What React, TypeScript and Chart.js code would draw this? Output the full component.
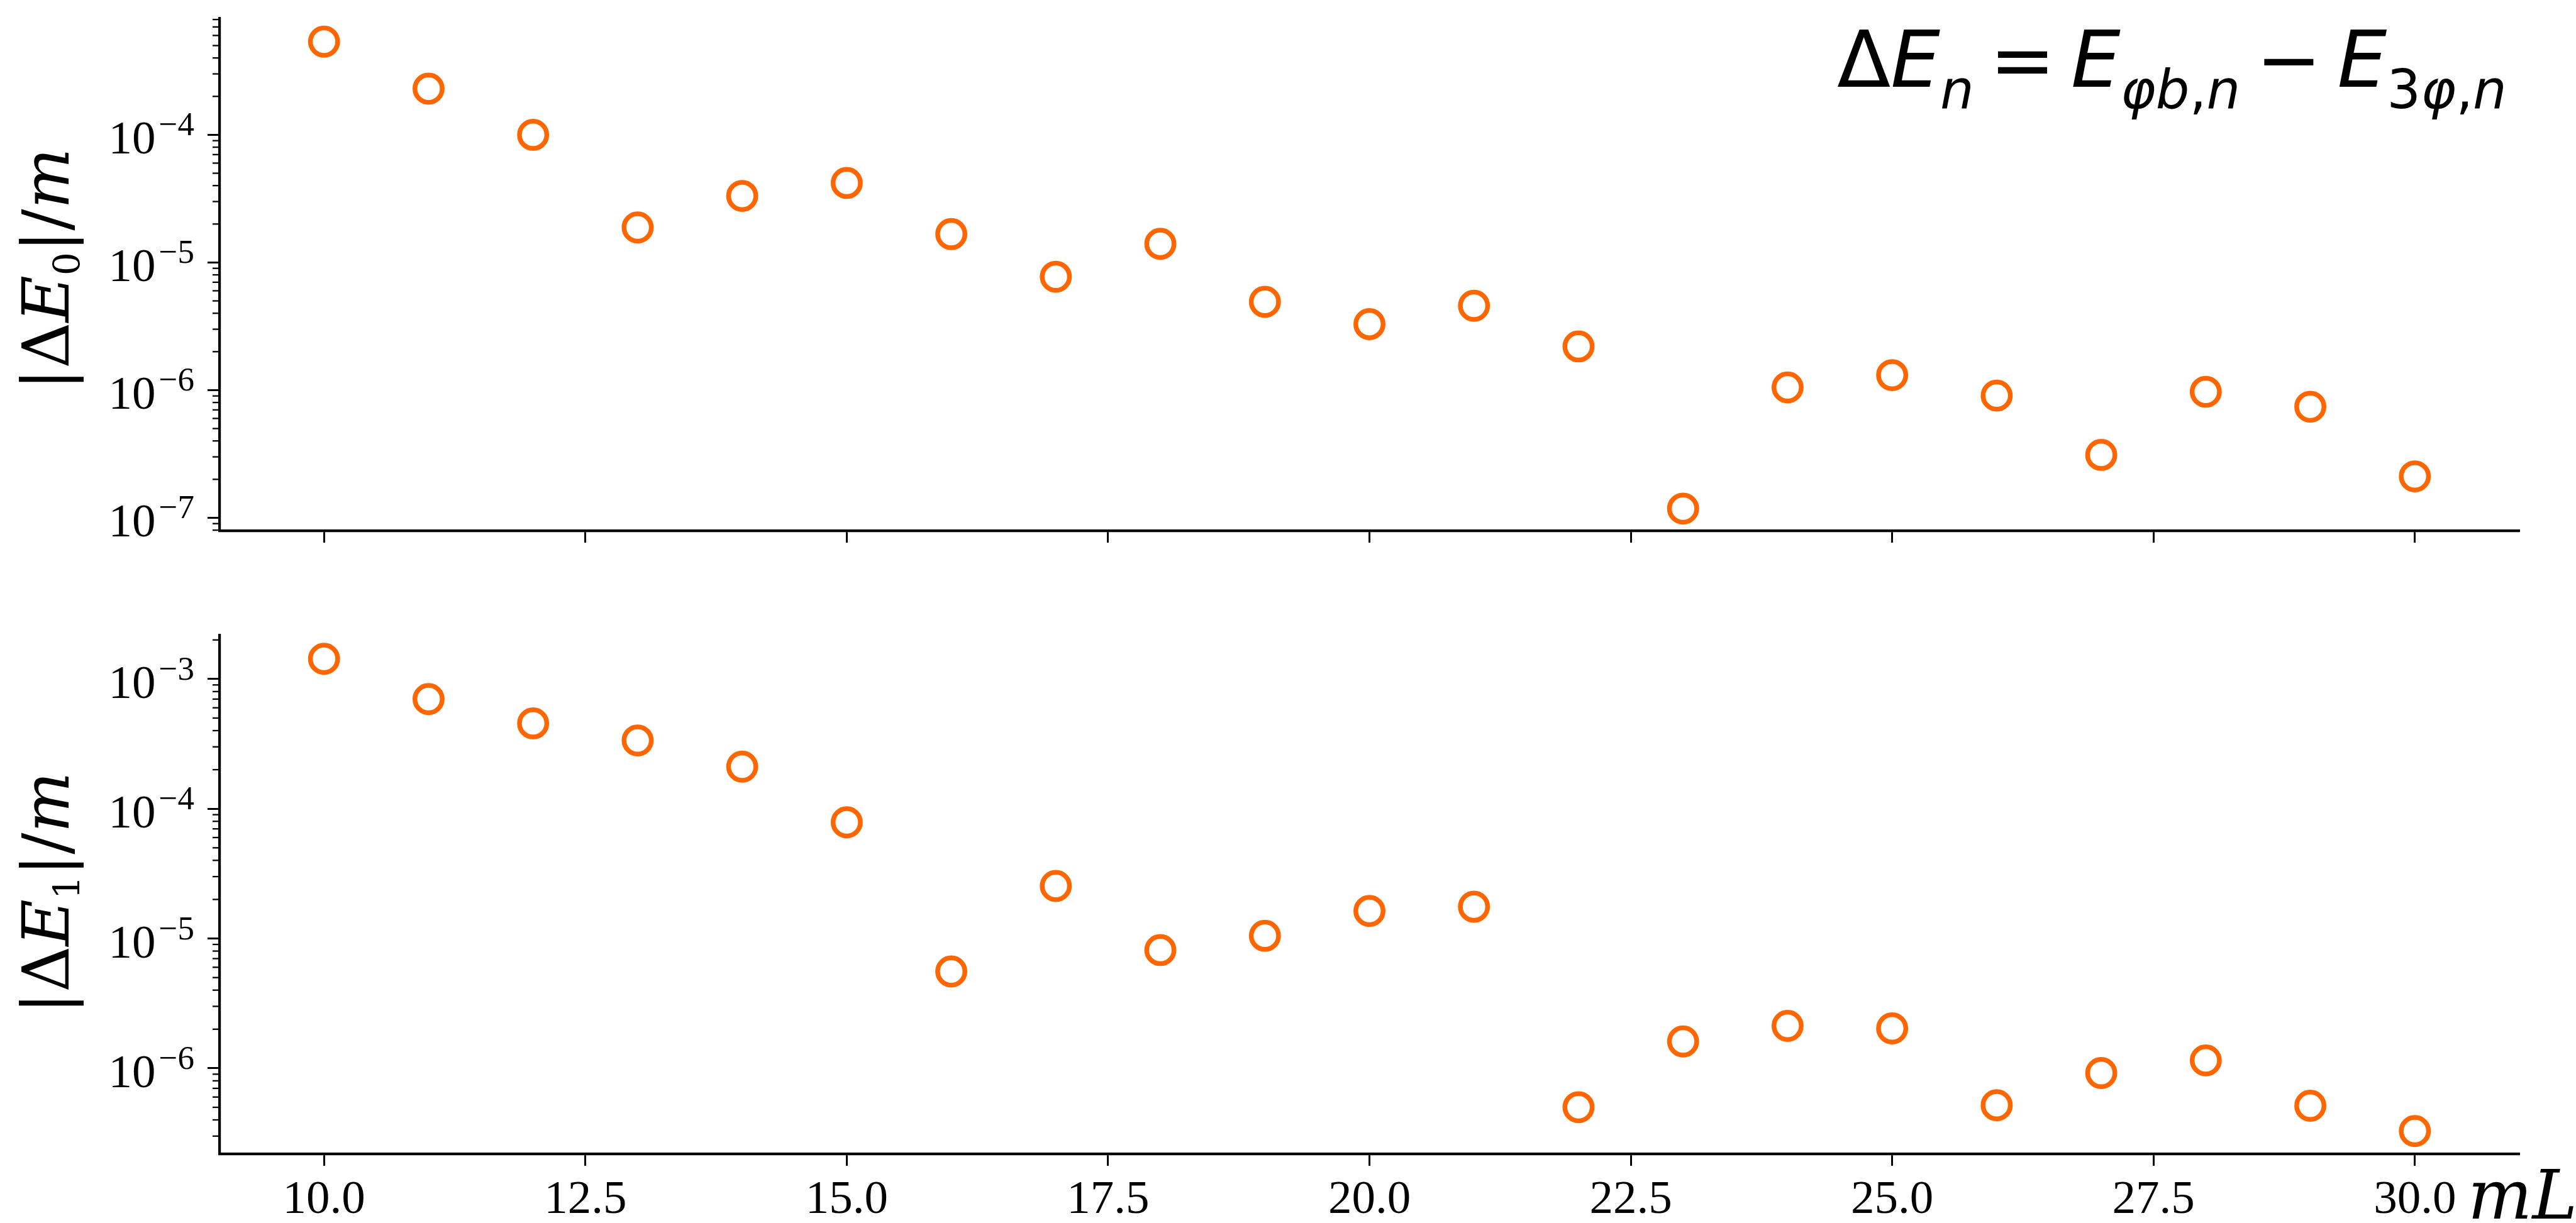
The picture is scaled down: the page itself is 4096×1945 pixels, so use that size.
import React, { useEffect, useRef } from 'react';
import { Chart, registerables } from 'chart.js';

Chart.register(...registerables);

// ---------------- data ----------------
const mL = [10, 11, 12, 13, 14, 15, 16, 17, 18, 19, 20, 21, 22, 23, 24, 25, 26, 27, 28, 29, 30];
const deltaE0 = [5.37e-4, 2.3e-4, 1.0e-4, 1.88e-5, 3.32e-5, 4.2e-5, 1.67e-5, 7.73e-6, 1.4e-5, 4.92e-6, 3.29e-6, 4.58e-6, 2.2e-6, 1.18e-7, 1.05e-6, 1.31e-6, 9.06e-7, 3.11e-7, 9.7e-7, 7.41e-7, 2.11e-7];
const deltaE1 = [1.43e-3, 7.0e-4, 4.55e-4, 3.36e-4, 2.11e-4, 7.86e-5, 5.57e-6, 2.54e-5, 8.15e-6, 1.05e-5, 1.63e-5, 1.76e-5, 5.01e-7, 1.61e-6, 2.12e-6, 2.03e-6, 5.19e-7, 9.18e-7, 1.15e-6, 5.14e-7, 3.28e-7];
const xTickValues = [10, 12.5, 15, 17.5, 20, 22.5, 25, 27.5, 30];
const yExpTop = [-7, -6, -5, -4];
const yExpBottom = [-6, -5, -4, -3];
const xRange = [9, 31];
const yRangeTop = [7.92e-8, 8.17e-4];
const yRangeBottom = [2.19e-7, 2.18e-3];
const yTitleSubTop = '0';
const yTitleSubBottom = '1';
const xTitleText = 'mL';
// formula pieces: [text, style]  n=normal, i=italic, is=italic subscript, s=upright subscript, op=operator
const formulaParts: [string, string][] = [
  ['Δ', 'n'], ['E', 'i'], ['n', 'is'], ['=', 'op'], ['E', 'i'], ['φb', 'is'], [',', 's'], ['n', 'is'],
  ['−', 'op'], ['E', 'i'], ['3', 's'], ['φ', 'is'], [',', 's'], ['n', 'is'],
];

// ---------------- layout ----------------
const W = 4096;
const H = 1945;
const AREA_LEFT = 349;
const AREA_RIGHT = 4006;
const ORANGE = '#ff6600';
const SERIF = '"Liberation Serif", "DejaVu Serif", serif';
const TITLE_SERIF = '"DejaVu Serif", "Liberation Serif", serif';
const SANS = '"DejaVu Sans", sans-serif';

type Seg = { t: string; italic?: boolean; sub?: boolean; gap?: number };

function drawSegs(ctx: CanvasRenderingContext2D, segs: Seg[], x: number, y: number, S: number, family: string, subRatio: number, subDrop: number, draw: boolean) {
  let cx = x;
  for (const sg of segs) {
    const size = sg.sub ? S * subRatio : S;
    ctx.font = `${sg.italic ? 'italic ' : ''}${size}px ${family}`;
    const g = (sg.gap || 0) * S;
    cx += g;
    if (draw) ctx.fillText(sg.t, cx, y + (sg.sub ? S * subDrop : 0));
    cx += ctx.measureText(sg.t).width;
    cx += g;
  }
  return cx - x;
}

const decorPlugin = {
  id: 'decor',
  afterDraw(chart: any, _args: any, opts: any) {
    const ctx: CanvasRenderingContext2D = chart.ctx;
    const ys = chart.scales.y;
    const area = chart.chartArea;
    ctx.save();
    ctx.fillStyle = '#000';
    ctx.strokeStyle = '#000';
    // minor ticks
    ctx.lineWidth = 2.3;
    const lo = Math.floor(Math.log10(ys.min));
    const hi = Math.ceil(Math.log10(ys.max));
    for (let e = lo; e <= hi; e++) {
      for (let m = 2; m <= 9; m++) {
        const v = m * Math.pow(10, e);
        if (v < ys.min || v > ys.max) continue;
        const py = ys.getPixelForValue(v);
        ctx.beginPath();
        ctx.moveTo(area.left - 11, py);
        ctx.lineTo(area.left, py);
        ctx.stroke();
      }
    }
    // y tick labels 10^{-n}
    ctx.textAlign = 'left';
    ctx.textBaseline = 'alphabetic';
    for (const e of opts.exps as number[]) {
      const py = ys.getPixelForValue(Math.pow(10, e));
      const sup = (e < 0 ? '−' : '') + Math.abs(e);
      ctx.font = `53px ${SERIF}`;
      const wSup = ctx.measureText(sup).width;
      ctx.font = `75px ${SERIF}`;
      const wBase = ctx.measureText('10').width;
      const right = area.left - 40;
      ctx.fillText('10', right - wSup - 5 - wBase, py + 30);
      ctx.font = `53px ${SERIF}`;
      ctx.fillText(sup, right - wSup, py + 1);
    }
    // y axis title
    const tSegs: Seg[] = [
      { t: '|' }, { t: 'Δ' }, { t: 'E', italic: true }, { t: opts.sub, sub: true }, { t: '|' }, { t: '/' }, { t: 'm', italic: true },
    ];
    const TS = 102;
    const tw = drawSegs(ctx, tSegs, 0, 0, TS, TITLE_SERIF, 0.57, 0.17, false);
    ctx.save();
    ctx.translate(109, opts.titleCenterY);
    ctx.rotate(-Math.PI / 2);
    drawSegs(ctx, tSegs, -tw / 2, 0, TS, TITLE_SERIF, 0.57, 0.17, true);
    ctx.restore();

    if (opts.xTitle) {
      ctx.font = `italic 108px ${TITLE_SERIF}`;
      ctx.fillText(xTitleText, 3924, 1938);
    }
    if (opts.formula) {
      const segs: Seg[] = formulaParts.map(([t, st]) => ({
        t,
        italic: st === 'i' || st === 'is',
        sub: st === 'is' || st === 's',
        gap: st === 'op' ? 0.2 : 0,
      }));
      const base = 100;
      const w0 = drawSegs(ctx, segs, 0, 0, base, SANS, 0.68, 0.27, false);
      const S = (base * 1065) / w0;
      drawSegs(ctx, segs, 2921, 138, S, SANS, 0.68, 0.27, true);
    }
    ctx.restore();
  },
};

function makeConfig(values: number[], yRange: number[], exps: number[], top: number, bottom: number, xAxisH: number, showX: boolean, extra: any): any {
  const gridOpts = { display: true, drawOnChartArea: false, drawTicks: true, tickLength: 19, tickWidth: 3, tickColor: '#000' };
  const borderOpts = { display: true, color: '#000', width: 4.2 };
  return {
    type: 'scatter',
    data: {
      datasets: [
        {
          data: mL.map((x, i) => ({ x, y: values[i] })),
          pointStyle: 'circle',
          pointRadius: 21.7,
          pointHoverRadius: 21.7,
          borderColor: ORANGE,
          pointBorderColor: ORANGE,
          backgroundColor: 'rgba(0,0,0,0)',
          pointBackgroundColor: 'rgba(0,0,0,0)',
          borderWidth: 7.5,
          pointBorderWidth: 7.5,
          showLine: false,
          clip: false,
        },
      ],
    },
    options: {
      responsive: false,
      maintainAspectRatio: false,
      animation: false,
      devicePixelRatio: 1,
      events: [],
      layout: { padding: { left: 0, right: W - AREA_RIGHT, top, bottom: H - bottom - xAxisH } },
      plugins: {
        legend: { display: false },
        tooltip: { enabled: false },
        decor: { exps, ...extra },
      },
      scales: {
        x: {
          type: 'linear',
          min: xRange[0],
          max: xRange[1],
          afterBuildTicks: (s: any) => {
            s.ticks = xTickValues.map((v) => ({ value: v }));
          },
          afterFit: (s: any) => {
            s.height = xAxisH;
          },
          grid: gridOpts,
          border: borderOpts,
          ticks: {
            display: showX,
            autoSkip: false,
            maxRotation: 0,
            minRotation: 0,
            padding: 10,
            color: '#000',
            font: { family: SERIF, size: 75, lineHeight: 1.2 },
            callback: (v: any) => Number(v).toFixed(1),
          },
        },
        y: {
          type: 'logarithmic',
          min: yRange[0],
          max: yRange[1],
          afterBuildTicks: (s: any) => {
            s.ticks = exps.map((e) => ({ value: Math.pow(10, e) }));
          },
          afterFit: (s: any) => {
            s.width = AREA_LEFT;
          },
          grid: gridOpts,
          border: borderOpts,
          ticks: { display: false },
        },
      },
    },
    plugins: [decorPlugin],
  };
}

export default function App() {
  const topRef = useRef<HTMLCanvasElement | null>(null);
  const botRef = useRef<HTMLCanvasElement | null>(null);

  useEffect(() => {
    const c1 = new Chart(
      topRef.current as HTMLCanvasElement,
      makeConfig(deltaE0, yRangeTop, yExpTop, 20, 844, 40, false, { sub: yTitleSubTop, titleCenterY: 428, formula: true })
    );
    const c2 = new Chart(
      botRef.current as HTMLCanvasElement,
      makeConfig(deltaE1, yRangeBottom, yExpBottom, 1010, 1835, 100, true, { sub: yTitleSubBottom, titleCenterY: 1420, xTitle: true })
    );
    return () => {
      c1.destroy();
      c2.destroy();
    };
  }, []);

  const cs: React.CSSProperties = { position: 'absolute', left: 0, top: 0, width: W, height: H };
  return (
    <div style={{ position: 'fixed', left: 0, top: 0, width: W, height: H, background: '#fff' }}>
      <canvas ref={topRef} width={W} height={H} style={cs} />
      <canvas ref={botRef} width={W} height={H} style={cs} />
    </div>
  );
}
